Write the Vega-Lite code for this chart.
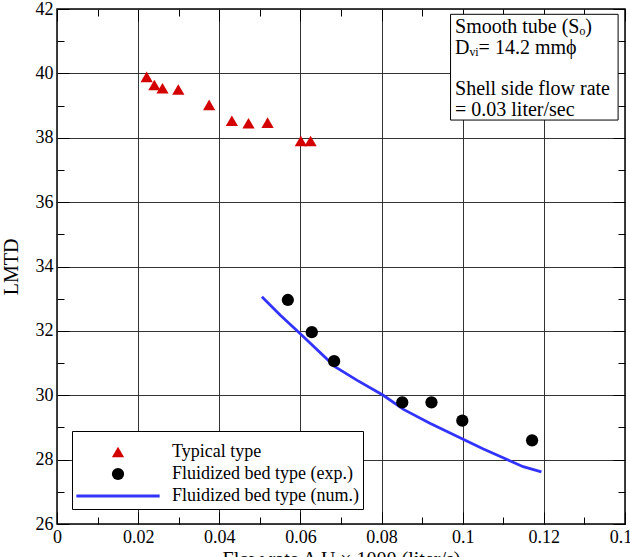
{
  "$schema": "https://vega.github.io/schema/vega-lite/v6.json",
  "width": 568,
  "height": 515,
  "autosize": {"type": "none"},
  "padding": {"left": 57, "top": 9, "right": 5, "bottom": 33},
  "background": "white",
  "config": {
    "view": {"stroke": "black", "strokeWidth": 1.5},
    "font": "Liberation Serif",
    "axis": {
      "labelFont": "Liberation Serif",
      "labelFontSize": 18,
      "labelColor": "black",
      "titleFont": "Liberation Serif",
      "titleFontSize": 20,
      "titleFontWeight": "normal",
      "titleColor": "black",
      "tickColor": "black",
      "tickWidth": 1,
      "domain": false,
      "labelFlush": false,
      "labelOverlap": false,
      "gridColor": "#333333",
      "gridWidth": 1
    },
    "legend": {
      "orient": "none",
      "legendX": 15,
      "legendY": 422,
      "strokeColor": "black",
      "fillColor": "white",
      "padding": 4,
      "labelFont": "Liberation Serif",
      "labelFontSize": 18,
      "labelColor": "black",
      "labelLimit": 400,
      "symbolSize": 150,
      "symbolOffset": 33,
      "labelOffset": 45,
      "rowPadding": 4,
      "symbolOpacity": 1,
      "titleFontSize": 8,
      "titlePadding": 0
    }
  },
  "datasets": {
    "series": [
      {"series": "Typical type", "x": 0.0221, "y": 39.89},
      {"series": "Typical type", "x": 0.0240, "y": 39.64},
      {"series": "Typical type", "x": 0.0260, "y": 39.54},
      {"series": "Typical type", "x": 0.0299, "y": 39.50},
      {"series": "Typical type", "x": 0.0375, "y": 39.02},
      {"series": "Typical type", "x": 0.0431, "y": 38.53},
      {"series": "Typical type", "x": 0.0472, "y": 38.45},
      {"series": "Typical type", "x": 0.0519, "y": 38.47},
      {"series": "Typical type", "x": 0.0601, "y": 37.90},
      {"series": "Typical type", "x": 0.0625, "y": 37.90},
      {"series": "Fluidized bed type (exp.)", "x": 0.0569, "y": 32.96},
      {"series": "Fluidized bed type (exp.)", "x": 0.0628, "y": 31.96},
      {"series": "Fluidized bed type (exp.)", "x": 0.0683, "y": 31.06},
      {"series": "Fluidized bed type (exp.)", "x": 0.0851, "y": 29.78},
      {"series": "Fluidized bed type (exp.)", "x": 0.0923, "y": 29.78},
      {"series": "Fluidized bed type (exp.)", "x": 0.0999, "y": 29.21},
      {"series": "Fluidized bed type (exp.)", "x": 0.1171, "y": 28.60},
      {"series": "Fluidized bed type (num.)", "x": 0.0505, "y": 33.06},
      {"series": "Fluidized bed type (num.)", "x": 0.0550, "y": 32.49},
      {"series": "Fluidized bed type (num.)", "x": 0.0599, "y": 31.92},
      {"series": "Fluidized bed type (num.)", "x": 0.0685, "y": 30.89},
      {"series": "Fluidized bed type (num.)", "x": 0.0739, "y": 30.47},
      {"series": "Fluidized bed type (num.)", "x": 0.0804, "y": 30.00},
      {"series": "Fluidized bed type (num.)", "x": 0.0854, "y": 29.56},
      {"series": "Fluidized bed type (num.)", "x": 0.0919, "y": 29.13},
      {"series": "Fluidized bed type (num.)", "x": 0.1001, "y": 28.63},
      {"series": "Fluidized bed type (num.)", "x": 0.1051, "y": 28.33},
      {"series": "Fluidized bed type (num.)", "x": 0.1108, "y": 28.01},
      {"series": "Fluidized bed type (num.)", "x": 0.1149, "y": 27.78},
      {"series": "Fluidized bed type (num.)", "x": 0.1194, "y": 27.62}
    ]
  },
  "resolve": {"axis": {"x": "independent", "y": "independent"}},
  "layer": [
    {
      "data": {"values": [{}]},
      "mark": {"type": "rect", "fill": "white", "stroke": "black", "strokeWidth": 1},
      "encoding": {
        "x": {
          "datum": 0.0970, "type": "quantitative",
          "scale": {"domain": [0, 0.14], "nice": false, "zero": false},
          "axis": {
            "orient": "top", "title": null, "labels": false, "grid": false,
            "values": [0,0.02,0.04,0.06,0.08,0.1,0.12,0.14],
            "tickSize": -12
          }
        },
        "x2": {"datum": 0.1383},
        "y": {
          "datum": 41.835, "type": "quantitative",
          "scale": {"domain": [26, 42], "nice": false, "zero": false},
          "axis": {
            "orient": "right", "title": null, "labels": false, "grid": false,
            "values": [26,28,30,32,34,36,38,40,42],
            "tickSize": -12
          }
        },
        "y2": {"datum": 38.55}
      }
    },
    {
      "data": {"values": [{}]},
      "mark": {"type": "text", "align": "left", "baseline": "middle", "font": "Liberation Serif", "fontSize": 20, "lineHeight": 21.3, "color": "black"},
      "encoding": {
        "x": {
          "datum": 0.0981, "type": "quantitative",
          "axis": {
            "orient": "top", "title": null, "labels": false, "grid": false,
            "values": [0.01,0.03,0.05,0.07,0.09,0.11,0.13],
            "tickSize": -7
          }
        },
        "y": {
          "datum": 41.44, "type": "quantitative",
          "axis": {
            "orient": "right", "title": null, "labels": false, "grid": false,
            "values": [27,29,31,33,35,37,39,41],
            "tickSize": -7
          }
        },
        "text": {"value": ["Smooth tube (Sₒ)", "Dᵥᵢ= 14.2 mmϕ"]}
      }
    },
    {
      "data": {"values": [{}]},
      "mark": {"type": "text", "align": "left", "baseline": "middle", "font": "Liberation Serif", "fontSize": 20, "lineHeight": 21.3, "color": "black"},
      "encoding": {
        "x": {
          "datum": 0.0981, "type": "quantitative",
          "axis": {
            "orient": "bottom", "title": null, "labels": false, "grid": false,
            "values": [0.01,0.03,0.05,0.07,0.09,0.11,0.13],
            "tickSize": -7
          }
        },
        "y": {
          "datum": 39.51, "type": "quantitative",
          "axis": {
            "orient": "left", "title": null, "labels": false, "grid": false,
            "values": [27,29,31,33,35,37,39,41],
            "tickSize": -7
          }
        },
        "text": {"value": ["Shell side flow rate", "= 0.03 liter/sec"]}
      }
    },
    {
      "data": {"name": "series"},
      "transform": [{"filter": "datum.series === 'Fluidized bed type (num.)'"}],
      "mark": {"type": "line", "strokeWidth": 2.8},
      "encoding": {
        "x": {"field": "x", "type": "quantitative", "axis": null},
        "y": {"field": "y", "type": "quantitative", "axis": null},
        "order": {"field": "x"},
        "color": {
          "field": "series", "type": "nominal",
          "scale": {
            "domain": ["Typical type", "Fluidized bed type (exp.)", "Fluidized bed type (num.)"],
            "range": ["#D40000", "#000000", "#3333FF"]
          },
          "legend": {
            "title": " ",
            "encode": {"symbols": {"update": {
              "stroke": {"scale": "color", "field": "value"},
              "strokeWidth": {"signal": "datum.value === 'Fluidized bed type (num.)' ? 3 : 0"}
            }}}
          }
        }
      }
    },
    {
      "data": {"name": "series"},
      "transform": [{"filter": "datum.series !== 'Fluidized bed type (num.)'"}],
      "mark": {"type": "point", "filled": true, "opacity": 1, "size": 150},
      "encoding": {
        "x": {
          "field": "x", "type": "quantitative",
          "axis": {
            "orient": "bottom",
            "title": "Flow rate A U × 1000 (liter/s)",
            "titlePadding": 3,
            "values": [0,0.02,0.04,0.06,0.08,0.1,0.12,0.14],
            "labelExpr": "'' + datum.value",
            "tickSize": -12,
            "labelPadding": 16,
            "grid": true
          }
        },
        "y": {
          "field": "y", "type": "quantitative",
          "axis": {
            "orient": "left",
            "title": "LMTD",
            "titlePadding": 14,
            "values": [26,28,30,32,34,36,38,40,42],
            "tickSize": -12,
            "labelPadding": 16,
            "grid": true
          }
        },
        "color": {"field": "series", "type": "nominal"},
        "shape": {
          "field": "series", "type": "nominal",
          "scale": {
            "domain": ["Typical type", "Fluidized bed type (exp.)", "Fluidized bed type (num.)"],
            "range": ["triangle-up", "circle", "M-6.8,0L6.8,0"]
          }
        }
      }
    }
  ]
}
